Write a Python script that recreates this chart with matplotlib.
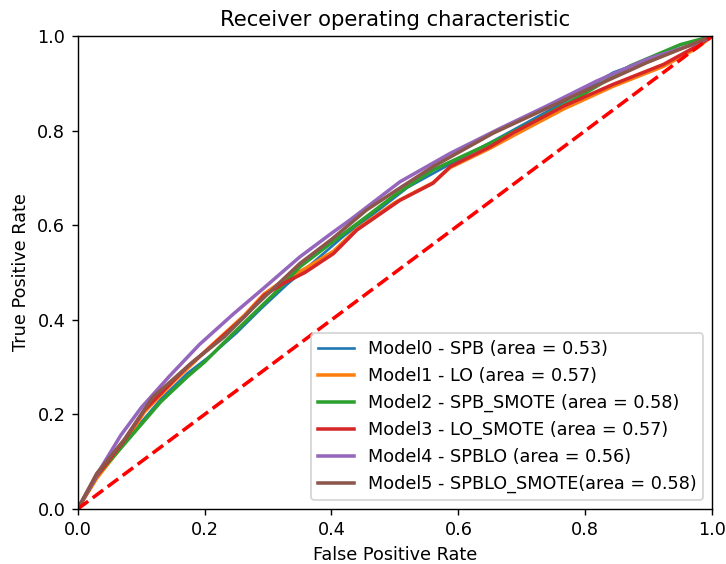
import matplotlib
matplotlib.use("Agg")
import matplotlib.pyplot as plt

labels = [
    "Model0 - SPB (area = 0.53)",
    "Model1 - LO (area = 0.57)",
    "Model2 - SPB_SMOTE (area = 0.58)",
    "Model3 - LO_SMOTE (area = 0.57)",
    "Model4 - SPBLO (area = 0.56)",
    "Model5 - SPBLO_SMOTE(area = 0.58)",
]

fpr0 = [0, 0.03, 0.079, 0.131, 0.173, 0.21, 0.25, 0.29, 0.33, 0.37, 0.42, 0.47, 0.52, 0.581, 0.66, 0.75, 0.844, 0.92, 0.97, 1.0]
tpr0 = [0, 0.072, 0.15, 0.232, 0.287, 0.325, 0.372, 0.425, 0.475, 0.52, 0.578, 0.628, 0.68, 0.725, 0.782, 0.848, 0.923, 0.96, 0.982, 1.0]

fpr1 = [0, 0.03, 0.074, 0.105, 0.152, 0.21, 0.263, 0.294, 0.326, 0.358, 0.403, 0.44, 0.50, 0.56, 0.587, 0.65, 0.687, 0.766, 0.844, 0.923, 0.976, 1.0]
tpr1 = [0, 0.065, 0.14, 0.205, 0.27, 0.345, 0.41, 0.455, 0.485, 0.508, 0.545, 0.592, 0.648, 0.690, 0.722, 0.763, 0.790, 0.846, 0.894, 0.936, 0.975, 1.0]

fpr2 = [0, 0.03, 0.079, 0.131, 0.173, 0.20, 0.245, 0.279, 0.315, 0.35, 0.40, 0.455, 0.50, 0.56, 0.65, 0.713, 0.792, 0.871, 0.95, 1.0]
tpr2 = [0, 0.07, 0.146, 0.227, 0.280, 0.311, 0.371, 0.415, 0.462, 0.512, 0.563, 0.618, 0.664, 0.717, 0.773, 0.815, 0.873, 0.937, 0.982, 1.0]

fpr3 = [0, 0.03, 0.074, 0.105, 0.152, 0.173, 0.21, 0.263, 0.294, 0.324, 0.358, 0.403, 0.44, 0.508, 0.56, 0.587, 0.65, 0.687, 0.766, 0.844, 0.923, 0.976, 1.0]
tpr3 = [0, 0.07, 0.146, 0.209, 0.273, 0.301, 0.343, 0.407, 0.452, 0.477, 0.500, 0.540, 0.590, 0.653, 0.689, 0.724, 0.766, 0.796, 0.852, 0.898, 0.94, 0.979, 1.0]

fpr4 = [0, 0.0315, 0.068, 0.10, 0.144, 0.192, 0.245, 0.294, 0.35, 0.40, 0.429, 0.508, 0.587, 0.666, 0.739, 0.818, 0.897, 0.976, 1.0]
tpr4 = [0, 0.0755, 0.156, 0.214, 0.280, 0.348, 0.412, 0.468, 0.533, 0.583, 0.611, 0.692, 0.752, 0.805, 0.852, 0.905, 0.951, 0.985, 1.0]

fpr5 = [0, 0.03, 0.074, 0.118, 0.183, 0.231, 0.28, 0.35, 0.40, 0.455, 0.50, 0.56, 0.655, 0.792, 0.897, 0.96, 1.0]
tpr5 = [0, 0.075, 0.148, 0.236, 0.313, 0.364, 0.43, 0.519, 0.570, 0.632, 0.672, 0.724, 0.795, 0.880, 0.944, 0.978, 1.0]

fprs = [fpr0, fpr1, fpr2, fpr3, fpr4, fpr5]
tprs = [tpr0, tpr1, tpr2, tpr3, tpr4, tpr5]
widths = [1.5, 2, 2, 2, 2, 2]

DPI = 127
fig = plt.figure(figsize=(726 / DPI, 564 / DPI), dpi=DPI)
ax = fig.add_axes([0.107, 0.0975, 0.874, 0.8385])
for f, t, lab, w in zip(fprs, tprs, labels, widths):
    ax.plot(f, t, lw=w, label=lab)
ax.plot([0, 1], [0, 1], "r--", lw=2)
ax.set_xlim(0.0, 1.0)
ax.set_ylim(0.0, 1.0)
ax.set_xlabel("False Positive Rate")
ax.set_ylabel("True Positive Rate")
ax.set_title("Receiver operating characteristic")
ax.legend(loc="lower right")
fig.savefig("out.png", dpi=DPI)
